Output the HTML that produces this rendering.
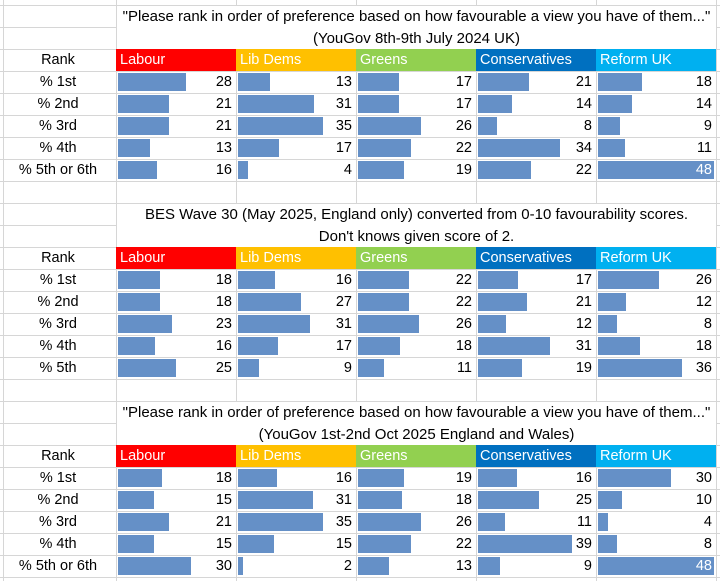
<!DOCTYPE html>
<html><head><meta charset="utf-8"><style>
body{margin:0;width:720px;height:581px;background:#fff;position:relative;overflow:hidden;font-family:"Liberation Sans",Arial,sans-serif;font-size:14.5px;color:#000}
.g{position:absolute;inset:0;background-image:linear-gradient(#d6d6d6 1px,transparent 1px),linear-gradient(90deg,#d6d6d6 1px,transparent 1px);background-size:720px 22px,120px 581px;background-position:0 5px,116px 0}
.gl{position:absolute;left:3px;top:0;width:1px;height:581px;background:#d6d6d6}
.t{position:absolute;left:117px;width:599px;height:43px;background:#fff;text-align:center;line-height:22px;font-size:15px;white-space:nowrap}
.a{position:absolute;left:0;width:116px;height:22px;line-height:23px;text-align:center}
.h{position:absolute;width:120px;height:22px;line-height:23px;color:#fff;padding-left:4px;box-sizing:border-box}
.c{position:absolute;width:120px;height:22px}
.c i{position:absolute;left:2px;top:2px;height:18px;background:#6590c7}
.c b{position:absolute;right:4px;top:0;line-height:23px;font-weight:normal}
.w{color:#fff}
</style></head><body>
<div class="g"></div><div class="gl"></div>

<div class="t" style="top:6px">"Please rank in order of preference based on how favourable a view you have of them..."<br>(YouGov 8th-9th July 2024 UK)</div>
<div class="t" style="top:204px">BES Wave 30 (May 2025, England only) converted from 0-10 favourability scores.<br>Don't knows given score of 2.</div>
<div class="t" style="top:402px">"Please rank in order of preference based on how favourable a view you have of them..."<br>(YouGov 1st-2nd Oct 2025 England and Wales)</div>

<div class="a" style="top:49px">Rank</div><div class="a" style="top:71px">% 1st</div><div class="a" style="top:93px">% 2nd</div><div class="a" style="top:115px">% 3rd</div><div class="a" style="top:137px">% 4th</div><div class="a" style="top:159px">% 5th or 6th</div>
<div class="a" style="top:247px">Rank</div><div class="a" style="top:269px">% 1st</div><div class="a" style="top:291px">% 2nd</div><div class="a" style="top:313px">% 3rd</div><div class="a" style="top:335px">% 4th</div><div class="a" style="top:357px">% 5th</div>
<div class="a" style="top:445px">Rank</div><div class="a" style="top:467px">% 1st</div><div class="a" style="top:489px">% 2nd</div><div class="a" style="top:511px">% 3rd</div><div class="a" style="top:533px">% 4th</div><div class="a" style="top:555px">% 5th or 6th</div>

<div class="h" style="top:49px;left:116px;background:#ff0000">Labour</div><div class="h" style="top:49px;left:236px;background:#ffc000">Lib Dems</div><div class="h" style="top:49px;left:356px;background:#92d050">Greens</div><div class="h" style="top:49px;left:476px;background:#0070c0">Conservatives</div><div class="h" style="top:49px;left:596px;background:#00b0f0">Reform UK</div>
<div class="h" style="top:247px;left:116px;background:#ff0000">Labour</div><div class="h" style="top:247px;left:236px;background:#ffc000">Lib Dems</div><div class="h" style="top:247px;left:356px;background:#92d050">Greens</div><div class="h" style="top:247px;left:476px;background:#0070c0">Conservatives</div><div class="h" style="top:247px;left:596px;background:#00b0f0">Reform UK</div>
<div class="h" style="top:445px;left:116px;background:#ff0000">Labour</div><div class="h" style="top:445px;left:236px;background:#ffc000">Lib Dems</div><div class="h" style="top:445px;left:356px;background:#92d050">Greens</div><div class="h" style="top:445px;left:476px;background:#0070c0">Conservatives</div><div class="h" style="top:445px;left:596px;background:#00b0f0">Reform UK</div>

<!-- Block 1 -->
<div class="c" style="left:116px;top:71px"><i style="width:68px"></i><b>28</b></div>
<div class="c" style="left:116px;top:93px"><i style="width:51px"></i><b>21</b></div>
<div class="c" style="left:116px;top:115px"><i style="width:51px"></i><b>21</b></div>
<div class="c" style="left:116px;top:137px"><i style="width:32px"></i><b>13</b></div>
<div class="c" style="left:116px;top:159px"><i style="width:39px"></i><b>16</b></div>
<div class="c" style="left:236px;top:71px"><i style="width:32px"></i><b>13</b></div>
<div class="c" style="left:236px;top:93px"><i style="width:76px"></i><b>31</b></div>
<div class="c" style="left:236px;top:115px"><i style="width:85px"></i><b>35</b></div>
<div class="c" style="left:236px;top:137px"><i style="width:41px"></i><b>17</b></div>
<div class="c" style="left:236px;top:159px"><i style="width:10px"></i><b>4</b></div>
<div class="c" style="left:356px;top:71px"><i style="width:41px"></i><b>17</b></div>
<div class="c" style="left:356px;top:93px"><i style="width:41px"></i><b>17</b></div>
<div class="c" style="left:356px;top:115px"><i style="width:63px"></i><b>26</b></div>
<div class="c" style="left:356px;top:137px"><i style="width:53px"></i><b>22</b></div>
<div class="c" style="left:356px;top:159px"><i style="width:46px"></i><b>19</b></div>
<div class="c" style="left:476px;top:71px"><i style="width:51px"></i><b>21</b></div>
<div class="c" style="left:476px;top:93px"><i style="width:34px"></i><b>14</b></div>
<div class="c" style="left:476px;top:115px"><i style="width:19px"></i><b>8</b></div>
<div class="c" style="left:476px;top:137px"><i style="width:82px"></i><b>34</b></div>
<div class="c" style="left:476px;top:159px"><i style="width:53px"></i><b>22</b></div>
<div class="c" style="left:596px;top:71px"><i style="width:44px"></i><b>18</b></div>
<div class="c" style="left:596px;top:93px"><i style="width:34px"></i><b>14</b></div>
<div class="c" style="left:596px;top:115px"><i style="width:22px"></i><b>9</b></div>
<div class="c" style="left:596px;top:137px"><i style="width:27px"></i><b>11</b></div>
<div class="c" style="left:596px;top:159px"><i style="width:116px"></i><b class="w">48</b></div>

<!-- Block 2 -->
<div class="c" style="left:116px;top:269px"><i style="width:42px"></i><b>18</b></div>
<div class="c" style="left:116px;top:291px"><i style="width:42px"></i><b>18</b></div>
<div class="c" style="left:116px;top:313px"><i style="width:54px"></i><b>23</b></div>
<div class="c" style="left:116px;top:335px"><i style="width:37px"></i><b>16</b></div>
<div class="c" style="left:116px;top:357px"><i style="width:58px"></i><b>25</b></div>
<div class="c" style="left:236px;top:269px"><i style="width:37px"></i><b>16</b></div>
<div class="c" style="left:236px;top:291px"><i style="width:63px"></i><b>27</b></div>
<div class="c" style="left:236px;top:313px"><i style="width:72px"></i><b>31</b></div>
<div class="c" style="left:236px;top:335px"><i style="width:40px"></i><b>17</b></div>
<div class="c" style="left:236px;top:357px"><i style="width:21px"></i><b>9</b></div>
<div class="c" style="left:356px;top:269px"><i style="width:51px"></i><b>22</b></div>
<div class="c" style="left:356px;top:291px"><i style="width:51px"></i><b>22</b></div>
<div class="c" style="left:356px;top:313px"><i style="width:61px"></i><b>26</b></div>
<div class="c" style="left:356px;top:335px"><i style="width:42px"></i><b>18</b></div>
<div class="c" style="left:356px;top:357px"><i style="width:26px"></i><b>11</b></div>
<div class="c" style="left:476px;top:269px"><i style="width:40px"></i><b>17</b></div>
<div class="c" style="left:476px;top:291px"><i style="width:49px"></i><b>21</b></div>
<div class="c" style="left:476px;top:313px"><i style="width:28px"></i><b>12</b></div>
<div class="c" style="left:476px;top:335px"><i style="width:72px"></i><b>31</b></div>
<div class="c" style="left:476px;top:357px"><i style="width:44px"></i><b>19</b></div>
<div class="c" style="left:596px;top:269px"><i style="width:61px"></i><b>26</b></div>
<div class="c" style="left:596px;top:291px"><i style="width:28px"></i><b>12</b></div>
<div class="c" style="left:596px;top:313px"><i style="width:19px"></i><b>8</b></div>
<div class="c" style="left:596px;top:335px"><i style="width:42px"></i><b>18</b></div>
<div class="c" style="left:596px;top:357px"><i style="width:84px"></i><b>36</b></div>

<!-- Block 3 -->
<div class="c" style="left:116px;top:467px"><i style="width:44px"></i><b>18</b></div>
<div class="c" style="left:116px;top:489px"><i style="width:36px"></i><b>15</b></div>
<div class="c" style="left:116px;top:511px"><i style="width:51px"></i><b>21</b></div>
<div class="c" style="left:116px;top:533px"><i style="width:36px"></i><b>15</b></div>
<div class="c" style="left:116px;top:555px"><i style="width:73px"></i><b>30</b></div>
<div class="c" style="left:236px;top:467px"><i style="width:39px"></i><b>16</b></div>
<div class="c" style="left:236px;top:489px"><i style="width:75px"></i><b>31</b></div>
<div class="c" style="left:236px;top:511px"><i style="width:85px"></i><b>35</b></div>
<div class="c" style="left:236px;top:533px"><i style="width:36px"></i><b>15</b></div>
<div class="c" style="left:236px;top:555px"><i style="width:5px"></i><b>2</b></div>
<div class="c" style="left:356px;top:467px"><i style="width:46px"></i><b>19</b></div>
<div class="c" style="left:356px;top:489px"><i style="width:44px"></i><b>18</b></div>
<div class="c" style="left:356px;top:511px"><i style="width:63px"></i><b>26</b></div>
<div class="c" style="left:356px;top:533px"><i style="width:53px"></i><b>22</b></div>
<div class="c" style="left:356px;top:555px"><i style="width:31px"></i><b>13</b></div>
<div class="c" style="left:476px;top:467px"><i style="width:39px"></i><b>16</b></div>
<div class="c" style="left:476px;top:489px"><i style="width:61px"></i><b>25</b></div>
<div class="c" style="left:476px;top:511px"><i style="width:27px"></i><b>11</b></div>
<div class="c" style="left:476px;top:533px"><i style="width:94px"></i><b>39</b></div>
<div class="c" style="left:476px;top:555px"><i style="width:22px"></i><b>9</b></div>
<div class="c" style="left:596px;top:467px"><i style="width:73px"></i><b>30</b></div>
<div class="c" style="left:596px;top:489px"><i style="width:24px"></i><b>10</b></div>
<div class="c" style="left:596px;top:511px"><i style="width:10px"></i><b>4</b></div>
<div class="c" style="left:596px;top:533px"><i style="width:19px"></i><b>8</b></div>
<div class="c" style="left:596px;top:555px"><i style="width:116px"></i><b class="w">48</b></div>
</body></html>
